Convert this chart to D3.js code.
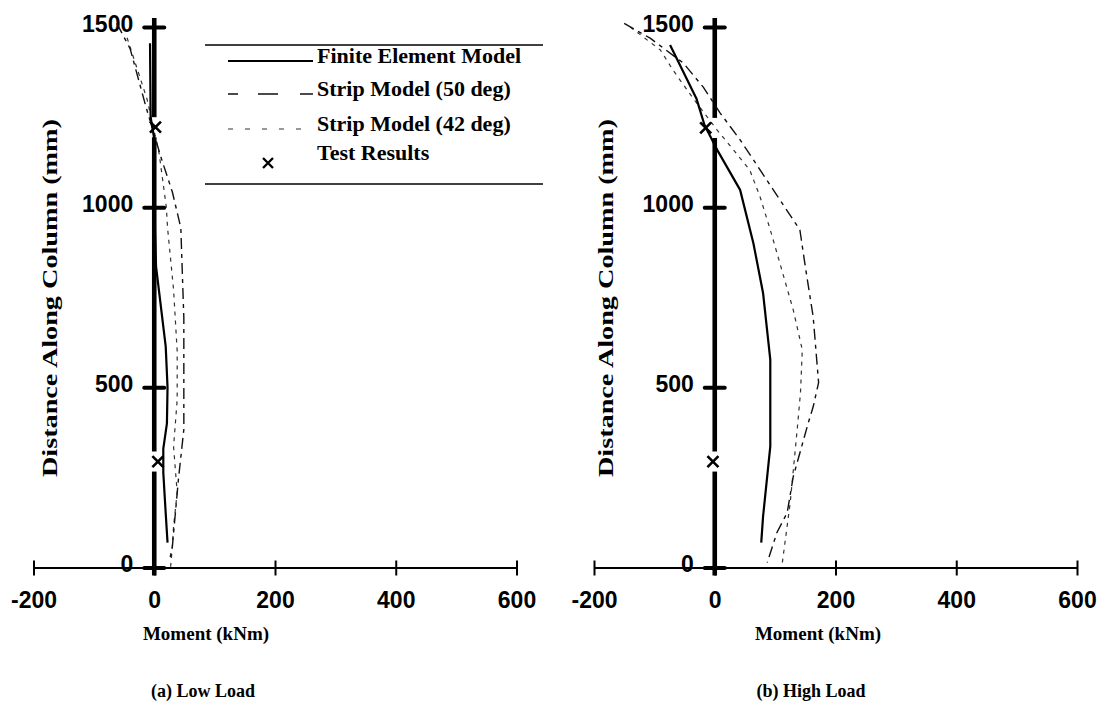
<!DOCTYPE html>
<html>
<head>
<meta charset="utf-8">
<script src="https://cdn.jsdelivr.net/npm/d3@7/dist/d3.min.js"></script>
<style>
  html, body { margin: 0; padding: 0; background: #fff; }
  svg { display: block; }
</style>
</head>
<body>
<svg id="chart" width="1104" height="708"></svg>
<script>
// ---- data: bending moment (kNm) along the column height (mm) ----
const xTicks = [-200, 0, 200, 400, 600];
const yTicks = [0, 500, 1000, 1500];
const seriesNames = ["Finite Element Model", "Strip Model (50 deg)", "Strip Model (42 deg)", "Test Results"];
const panelTitles = ["(a) Low Load", "(b) High Load"];

// Low load
const lowFEHeight   = [1455, 1250, 1190, 1000, 835, 613, 500, 400, 330, 263, 150, 69];
const lowFEMoment   = [-7, -6, 0, 0, 3, 19, 22, 21, 15, 15, 19, 22];
const lowS50Height  = [1510, 1440, 1280, 1139, 1042, 943, 693, 383, 244, 58, 16];
const lowS50Moment  = [-62, -40, -14, 11, 30, 44, 49, 49, 40, 30, 25];
const lowS42Height  = [1470, 1300, 1150, 1000, 943, 771, 600, 466, 335, 208, 114, 58, 0];
const lowS42Moment  = [-45, -12, 8, 20, 22, 32, 38, 38, 32, 38, 32, 30, 27];
const lowTestHeight = [1222, 294];
const lowTestMoment = [2, 6];

// High load
const highFEHeight   = [1450, 1300, 1228, 1159, 1048, 900, 762, 577, 336, 141, 69];
const highFEMoment   = [-74, -30, -17, 4, 42, 64, 80, 92, 92, 80, 77];
const highS50Height  = [1510, 1469, 1400, 1333, 1261, 1187, 1048, 937, 835, 696, 513, 446, 402, 252, 152, 97, 14];
const highS50Moment  = [-150, -107, -52, -19, 9, 42, 97, 141, 150, 163, 172, 163, 155, 130, 120, 103, 87];
const highS42Height  = [1500, 1436, 1380, 1300, 1214, 1159, 1103, 1029, 937, 873, 715, 604, 485, 391, 180, 78, 14];
const highS42Moment  = [-140, -90, -69, -35, 4, 31, 58, 75, 92, 103, 130, 145, 142, 137, 125, 117, 112];
const highTestHeight = [1220, 294];
const highTestMoment = [-15, -3];

const zip = (h, m) => h.map((v, i) => ({ h: v, m: m[i] }));

const panels = [
  {
    range: [33.5, 516.5], title: panelTitles[0], titleX: 203, momentX: 206, distX: 57,
    fe: zip(lowFEHeight, lowFEMoment), s50: zip(lowS50Height, lowS50Moment),
    s42: zip(lowS42Height, lowS42Moment), test: zip(lowTestHeight, lowTestMoment)
  },
  {
    range: [594, 1077], title: panelTitles[1], titleX: 811, momentX: 818, distX: 613,
    fe: zip(highFEHeight, highFEMoment), s50: zip(highS50Height, highS50Moment),
    s42: zip(highS42Height, highS42Moment), test: zip(highTestHeight, highTestMoment)
  }
];

const svg = d3.select("#chart");
svg.append("rect").attr("width", 1104).attr("height", 708).attr("fill", "#fff");

const y = d3.scaleLinear().domain([0, 1500]).range([567.5, 27]);
const sansBold = "'Liberation Sans', Arial, sans-serif";
const serif = "'Liberation Serif', 'Times New Roman', serif";
const plainNumber = d => String(d);   // ASCII hyphen for negatives

const styles = {
  fe:  { width: 2.2, dash: null,       color: "#000" },
  s50: { width: 1.4, dash: "11,5,4,5", color: "#111" },
  s42: { width: 1.2, dash: "4,5",      color: "#333" }
};

function crossPath(g, cx, cy, r, w) {
  g.append("path")
    .attr("d", `M${cx - r},${cy - r}L${cx + r},${cy + r}M${cx - r},${cy + r}L${cx + r},${cy - r}`)
    .attr("stroke", "#000").attr("stroke-width", w).attr("fill", "none");
}

panels.forEach(p => {
  const x = d3.scaleLinear().domain([-200, 600]).range(p.range);
  const g = svg.append("g");
  const x0 = x(0);

  // horizontal axis with crossing ticks
  const xAxis = d3.axisBottom(x).tickValues(xTicks).tickSize(0).tickFormat(plainNumber);
  const xa = g.append("g").attr("transform", `translate(0,${y(0)})`).call(xAxis);
  xa.select(".domain").attr("stroke", "#000").attr("stroke-width", 2.2);
  xa.selectAll(".tick line").remove();
  xa.selectAll(".tick").append("line")
    .attr("y1", -7).attr("y2", 8).attr("stroke", "#000").attr("stroke-width", 2);
  xa.selectAll(".tick text")
    .attr("y", 40).attr("dy", null)
    .attr("font-family", sansBold).attr("font-weight", "bold").attr("font-size", 23)
    .attr("fill", "#000");

  // vertical axis: heavy line broken around the test points
  const gaps = p.test.map(t => y(t.h)).sort((a, b) => a - b);
  let top = y(1500) - 9;
  const segs = [];
  gaps.forEach(cy => { segs.push([top, cy - 10]); top = cy + 10; });
  segs.push([top, y(0) + 8]);
  segs.forEach(s => {
    g.append("line").attr("x1", x0).attr("x2", x0).attr("y1", s[0]).attr("y2", s[1])
      .attr("stroke", "#000").attr("stroke-width", 4.6);
  });
  const yAxis = d3.axisLeft(y).tickValues(yTicks).tickSize(0).tickFormat(plainNumber);
  const ya = g.append("g").attr("transform", `translate(${x0},0)`).call(yAxis);
  ya.select(".domain").remove();
  ya.selectAll(".tick line").remove();
  ya.selectAll(".tick").append("line")
    .attr("x1", -10).attr("x2", 10).attr("stroke", "#000").attr("stroke-width", 4)
    .attr("stroke-linecap", "round");
  ya.selectAll(".tick text")
    .attr("x", -21).attr("dy", "0.18em")
    .attr("font-family", sansBold).attr("font-weight", "bold").attr("font-size", 23)
    .attr("fill", "#000");

  // model curves
  const line = d3.line().x(d => x(d.m)).y(d => y(d.h));
  ["s42", "s50", "fe"].forEach(k => {
    g.append("path").datum(p[k]).attr("d", line)
      .attr("fill", "none").attr("stroke", styles[k].color)
      .attr("stroke-width", styles[k].width)
      .attr("stroke-dasharray", styles[k].dash)
      .attr("stroke-linejoin", "round");
  });

  // test results
  p.test.forEach(t => crossPath(g, x(t.m), y(t.h), 5.5, 2.6));

  // axis titles
  g.append("text").attr("x", p.momentX).attr("y", 640).attr("text-anchor", "middle")
    .attr("font-family", serif).attr("font-weight", "bold").attr("font-size", 19)
    .text("Moment (kNm)");
  g.append("text").attr("transform", `translate(${p.distX},298) rotate(-90)`)
    .attr("text-anchor", "middle")
    .attr("font-family", serif).attr("font-weight", "bold").attr("font-size", 20)
    .attr("textLength", 358).attr("lengthAdjust", "spacingAndGlyphs")
    .text("Distance Along Column (mm)");
  g.append("text").attr("x", p.titleX).attr("y", 697).attr("text-anchor", "middle")
    .attr("font-family", serif).attr("font-weight", "bold").attr("font-size", 18)
    .text(p.title);
});

// legend
const lg = svg.append("g");
lg.append("line").attr("x1", 205).attr("x2", 543).attr("y1", 45).attr("y2", 45)
  .attr("stroke", "#000").attr("stroke-width", 1.3);
lg.append("line").attr("x1", 205).attr("x2", 543).attr("y1", 184).attr("y2", 184)
  .attr("stroke", "#000").attr("stroke-width", 1.3);
const legendKeys = ["fe", "s50", "s42", "test"];
const legendY = [61, 94, 129, 163];
const legendDash = { fe: null, s50: "10,20,20,22,13,100", s42: "5,12" };
legendKeys.forEach((k, i) => {
  if (k === "test") {
    crossPath(lg, 268, legendY[i], 5, 2.4);
  } else {
    lg.append("line").attr("x1", 228).attr("x2", 313).attr("y1", legendY[i]).attr("y2", legendY[i])
      .attr("stroke", styles[k].color).attr("stroke-width", styles[k].width)
      .attr("stroke-dasharray", legendDash[k]);
  }
  lg.append("text").attr("x", 317).attr("y", legendY[i] + (k === "test" ? -3 : 2))
    .attr("font-family", serif).attr("font-weight", "bold").attr("font-size", 22)
    .text(seriesNames[i]);
});
</script>
</body>
</html>
